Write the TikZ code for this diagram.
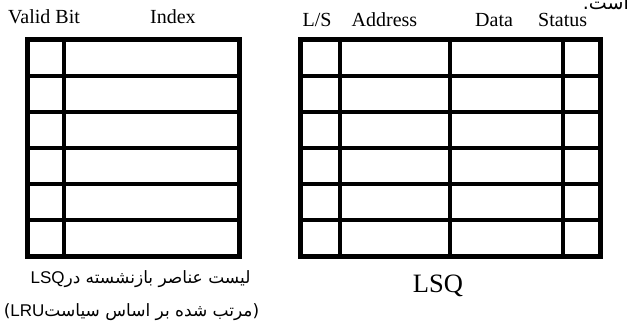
\documentclass[tikz,border=0pt]{standalone}
\usepackage{fontspec}
\TeXXeTstate=1
\setmainfont{Liberation Serif}
\newfontfamily\fa[Script=Arabic]{DejaVu Sans}
\newfontfamily\arial{Liberation Sans}
\begin{document}
\begin{tikzpicture}[x=1pt,y=-1pt,
  outer/.style={line width=5pt,line join=miter},
  inner/.style={line width=4pt},
  head/.style={inner sep=0pt,anchor=base west,font=\fontsize{20}{24}\selectfont},
  fatext/.style={inner sep=0pt,anchor=base,font=\fa\fontsize{17}{20}\selectfont}]
\useasboundingbox (0,0) rectangle (630,327);

% column headings
\node[head] (hvalid) at (8,23.3) {Valid Bit};
\node[head] (hindex) at (150,23.3) {Index};
\node[head] (hls) at (302.5,26.7) {L/S};
\node[head] (haddr) at (351.5,26.7) {Address};
\node[head] (hdata) at (475,26.7) {Data};
\node[head] (hstat) at (538,26.7) {Status};

% end of a sentence from the surrounding text
\node[inner sep=0pt,anchor=base east,font=\fa\fontsize{19}{22}\selectfont] (tail) at (629,9.5) {\beginR است.\endR};

% retired-entries list: valid bit + index
\foreach \k in {1,...,5}
  \draw[inner] (27.5,{39.5+\k*36.1667}) -- (239.5,{39.5+\k*36.1667});
\draw[inner] (64,39.5) -- (64,256.5);
\draw[outer] (27.5,39.5) rectangle (239.5,256.5);

% load/store queue: L/S, address, data, status
\foreach \k in {1,...,5}
  \draw[inner] (300,{39.5+\k*36.1667}) -- (600,{39.5+\k*36.1667});
\foreach \xx in {339.5,449.5,562.5}
  \draw[inner] (\xx,39.5) -- (\xx,256.5);
\draw[outer] (300,39.5) rectangle (600,256.5);

% captions
\node[fatext] (cap1) at (140.5,283.3)
  {\beginR لیست عناصر بازنشسته در\beginL{\arial LSQ}\endL\endR};
\node[fatext] (cap2) at (131.5,316)
  {\beginR(مرتب شده بر اساس سیاست\beginL{\arial LRU}\endL)\endR};
\node[inner sep=0pt,anchor=base,font=\fontsize{26.5}{30}\selectfont] (lsq) at (438,292.7) {LSQ};
\end{tikzpicture}
\end{document}
